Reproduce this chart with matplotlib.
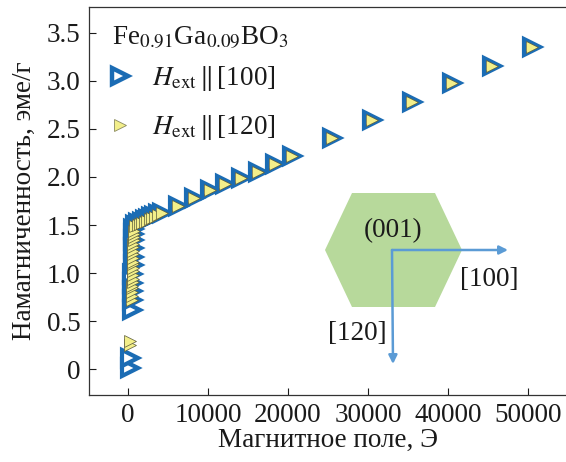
import matplotlib
matplotlib.use("Agg")
import matplotlib.pyplot as plt
from matplotlib.lines import Line2D
from matplotlib.patches import Polygon, FancyArrowPatch
from matplotlib.ticker import FixedLocator, FuncFormatter

plt.rcParams['font.family'] = ['Liberation Serif', 'DejaVu Serif']
plt.rcParams['mathtext.fontset'] = 'stix'

# ---- data ----
H100 = [300, 300, 500, 500, 520, 540, 560, 580, 600, 620, 640, 660, 680,
        900, 1300, 1700, 2100, 2500, 2900, 3300, 3700, 4200,
        6250, 8200, 10250, 12100, 14100, 16300, 18400, 20500,
        25500, 30500, 35500, 40500, 45500, 50500]
M100 = [0.01, 0.12, 0.62, 0.72, 0.81, 0.90, 0.99, 1.08, 1.17, 1.26, 1.34, 1.41, 1.46,
        1.50, 1.52, 1.53, 1.55, 1.56, 1.58, 1.59, 1.61, 1.63,
        1.70, 1.78, 1.86, 1.93, 1.99, 2.05, 2.14, 2.22,
        2.41, 2.59, 2.78, 2.98, 3.16, 3.35]

H120 = [300, 300,
        520, 530, 540, 550, 560, 570, 580, 590, 600, 610, 620, 630, 640, 650, 660,
        670, 680, 690, 700, 710, 720,
        900, 1200, 1500, 1800, 2100, 2400, 2700, 3000, 3400, 3800, 4200,
        6250, 8200, 10250, 12100, 14100, 16300, 18400, 20500,
        25500, 30500, 35500, 40500, 45500, 50500]
M120 = [0.25, 0.29,
        0.72, 0.76, 0.80, 0.84, 0.87, 0.91, 0.94, 0.98, 1.02, 1.05, 1.09, 1.12, 1.16,
        1.20, 1.23, 1.27, 1.30, 1.34, 1.37, 1.41, 1.44,
        1.49, 1.50, 1.51, 1.52, 1.53, 1.54, 1.56, 1.57, 1.58, 1.60, 1.62,
        1.70, 1.78, 1.86, 1.93, 1.99, 2.05, 2.14, 2.22,
        2.41, 2.59, 2.78, 2.98, 3.16, 3.35]

xticks = [0, 10000, 20000, 30000, 40000, 50000]
yticks = [0, 0.5, 1.0, 1.5, 2.0, 2.5, 3.0, 3.5]

label100 = r'$H_{\mathrm{ext}}\,\|\,$[100]'
label120 = r'$H_{\mathrm{ext}}\,\|\,$[120]'
title_txt = r'Fe$_{0.91}$Ga$_{0.09}$BO$_3$'

BLUE = '#1b6cb4'
YELLOW = '#f3ef8a'
YEDGE = '#5a5a3a'
TXT = '#1a1a1a'
FS = 19.5

W, Hpx = 566, 462
fig = plt.figure(figsize=(W / 100, Hpx / 100), dpi=100)
ax = fig.add_axes([89 / W, 1 - 395 / Hpx, 1 - 89 / W, (395 - 7) / Hpx])

ax.plot(H100, M100, linestyle='none', marker='>', markersize=11.5,
        markerfacecolor='white', markeredgecolor=BLUE, markeredgewidth=3, zorder=3)
ax.plot(H120, M120, linestyle='none', marker='>', markersize=8.5,
        markerfacecolor=YELLOW, markeredgecolor=YEDGE, markeredgewidth=0.5, zorder=4)

ax.set_xlim(-4875, 54750)
ax.set_ylim(-0.27, 3.77)
ax.xaxis.set_major_locator(FixedLocator(xticks))
ax.yaxis.set_major_locator(FixedLocator(yticks))
ax.xaxis.set_major_formatter(FuncFormatter(lambda v, p: '%d' % v))
ax.yaxis.set_major_formatter(FuncFormatter(lambda v, p: '0' if v == 0 else '%.1f' % v))
ax.tick_params(direction='in', length=5, width=0.8, labelsize=FS, colors=TXT,
               top=False, right=False)
ax.tick_params(axis='x', pad=6)
ax.tick_params(axis='y', pad=6)
ax.spines['right'].set_visible(False)
for s in ['left', 'bottom', 'top']:
    ax.spines[s].set_linewidth(0.9)
    ax.spines[s].set_color('#333333')

ax.set_xlabel('Магнитное поле, Э', fontsize=FS, color=TXT, labelpad=0)
ax.set_ylabel('Намагниченность, эме/г', fontsize=FS, color=TXT, labelpad=7)

ax.text(112 / W, 1 - 38 / Hpx, title_txt, transform=fig.transFigure,
        fontsize=FS, va='center', ha='left', color=TXT)

h1 = Line2D([], [], linestyle='none', marker='>', markersize=12,
            markerfacecolor='white', markeredgecolor=BLUE, markeredgewidth=3.2)
h2 = Line2D([], [], linestyle='none', marker='>', markersize=9,
            markerfacecolor=YELLOW, markeredgecolor='#8a8a60', markeredgewidth=0.6)
leg = ax.legend([h1, h2], [label100, label120], loc='upper left',
                bbox_to_anchor=((106 - 89) / (W - 89), (395 - 64) / 388),
                frameon=False, fontsize=FS, labelspacing=0.75,
                handlelength=1.0, handletextpad=0.7, borderaxespad=0, borderpad=0)
for t in leg.get_texts():
    t.set_color(TXT)

# ---- crystal inset ----
def fc(x, y):
    return (x / W, 1 - y / Hpx)

hexagon = Polygon([fc(352, 193), fc(435, 193), fc(462, 250), fc(435, 307),
                   fc(352, 307), fc(325, 250)], closed=True,
                  transform=fig.transFigure, facecolor='#b7d99b', edgecolor='none', zorder=2)
fig.patches.append(hexagon)
fig.text(*fc(393, 231), '(001)', fontsize=FS, ha='center', va='center', color=TXT, zorder=4)
ARROW = '#5b9bd5'
for end in [fc(508, 250), fc(393, 364)]:
    a = FancyArrowPatch(fc(392, 250), end, transform=fig.transFigure,
                        arrowstyle='-|>,head_length=5,head_width=2.5',
                        color=ARROW, linewidth=1.8, shrinkA=0, shrinkB=0, zorder=3)
    fig.patches.append(a)
fig.text(*fc(489, 279), '[100]', fontsize=FS, ha='center', va='center', color=TXT)
fig.text(*fc(357, 334), '[120]', fontsize=FS, ha='center', va='center', color=TXT)

fig.savefig('out.png', dpi=100)
